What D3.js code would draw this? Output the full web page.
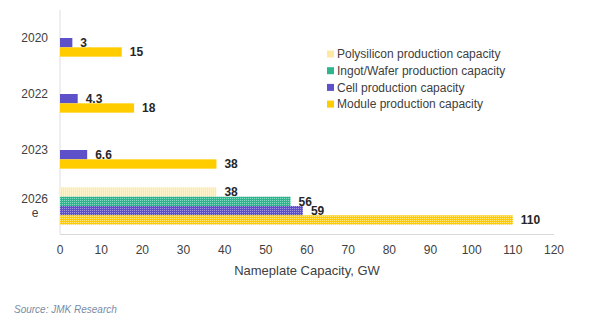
<!DOCTYPE html>
<html><head><meta charset="utf-8">
<script src="https://cdn.jsdelivr.net/npm/d3@7/dist/d3.min.js"></script>
<style>body{margin:0;background:#fff;font-family:Arial,"Liberation Sans",sans-serif}</style>
</head><body><svg id="c" width="600" height="326"></svg>
<script>
const categories = ["2020", "2022", "2023", "2026e"];
const categoryLabels = [["2020"], ["2022"], ["2023"], ["2026", "e"]];
const seriesNames = ["Polysilicon production capacity", "Ingot/Wafer production capacity", "Cell production capacity", "Module production capacity"];
const polysilicon = [null, null, null, 38];
const ingotWafer = [null, null, null, 56];
const cell = [3, 4.3, 6.6, 59];
const module_ = [15, 18, 38, 110];
const xTicks = [0, 10, 20, 30, 40, 50, 60, 70, 80, 90, 100, 110, 120];
const seriesValues = [polysilicon, ingotWafer, cell, module_];
const colors = ["#FFE8A3", "#2DB68E", "#5E50C8", "#FFCC00"];
const lightDots = ["#FFF3CC", "#8ADCC4", "#A39AE3", "#FFE680"];

const svg = d3.select("#c");
const m = {l: 60, r: 46, t: 10, b: 92};
const W = 600, H = 326;
const x = d3.scaleLinear().domain([0, 120]).range([m.l, W - m.r]);
const y = d3.scaleBand().domain(categories).range([m.t, H - m.b]).paddingInner(1/3).paddingOuter(1/6);
const sub = d3.scaleBand().domain(d3.range(4)).range([0, y.bandwidth()]);

const defs = svg.append("defs");
colors.forEach((c, i) => {
  const p = defs.append("pattern").attr("id", "pat" + i).attr("patternUnits", "userSpaceOnUse").attr("width", 2).attr("height", 2);
  p.append("rect").attr("width", 2).attr("height", 2).attr("fill", c);
  if (i === 0) {
    p.append("rect").attr("x", 0).attr("y", 0).attr("width", 1).attr("height", 2).attr("fill", lightDots[i]);
  } else {
    p.append("rect").attr("x", 0).attr("y", 0).attr("width", 1).attr("height", 1).attr("fill", lightDots[i]);
  }
});

// axes lines
svg.append("line").attr("x1", x(0)).attr("x2", x(0)).attr("y1", m.t).attr("y2", H - m.b).attr("stroke", "#D9DEE6").attr("stroke-width", 1);
svg.append("line").attr("x1", x(0)).attr("x2", x(120)).attr("y1", H - m.b + 0.5).attr("y2", H - m.b + 0.5).attr("stroke", "#D9D9D9").attr("stroke-width", 1);

// bars
categories.forEach((cat, ci) => {
  seriesValues.forEach((vals, si) => {
    const v = vals[ci];
    if (v == null) return;
    const yy = y(cat) + sub(si);
    const fill = cat === "2026e" ? `url(#pat${si})` : colors[si];
    svg.append("rect").attr("x", x(0)).attr("y", yy).attr("width", x(v) - x(0)).attr("height", sub.bandwidth()).attr("fill", fill);
    svg.append("text").attr("x", x(v) + 8).attr("y", yy + sub.bandwidth() / 2).attr("dy", "0.36em")
      .attr("font-size", 12).attr("font-weight", "bold").attr("fill", "#262626").text(v);
  });
});

// category labels
categories.forEach((cat, ci) => {
  const lines = categoryLabels[ci];
  const cy = y(cat) + y.bandwidth() / 2;
  const t = svg.append("text").attr("font-size", 12).attr("fill", "#404040");
  lines.forEach((l, li) => {
    t.append("tspan").attr("x", li > 0 ? 35 : 48).attr("text-anchor", li > 0 ? "middle" : "end")
      .attr("y", cy + (li - (lines.length - 1) / 2) * 14).attr("dy", "0.36em").text(l);
  });
});

// x tick labels
svg.selectAll(".xt").data(xTicks).enter().append("text").attr("x", d => x(d)).attr("y", H - m.b + 16).attr("dy", "0.36em")
  .attr("text-anchor", "middle").attr("font-size", 12).attr("fill", "#404040").text(d => d);

svg.append("text").attr("x", (x(0) + x(120)) / 2).attr("y", 270).attr("dy", "0.36em").attr("text-anchor", "middle")
  .attr("font-size", 13).attr("fill", "#404040").text("Nameplate Capacity, GW");

// legend
seriesNames.forEach((n, i) => {
  const ly = 54 + i * 16.7;
  svg.append("rect").attr("x", 327).attr("y", ly - 3.5).attr("width", 7).attr("height", 7).attr("fill", colors[i]);
  svg.append("text").attr("x", 337).attr("y", ly).attr("dy", "0.36em").attr("font-size", 12).attr("fill", "#404040").text(n);
});

svg.append("text").attr("x", 14).attr("y", 309).attr("dy", "0.36em").attr("font-size", 10).attr("font-style", "italic")
  .attr("fill", "#7A8BA3").text("Source: JMK Research");
</script></body></html>
